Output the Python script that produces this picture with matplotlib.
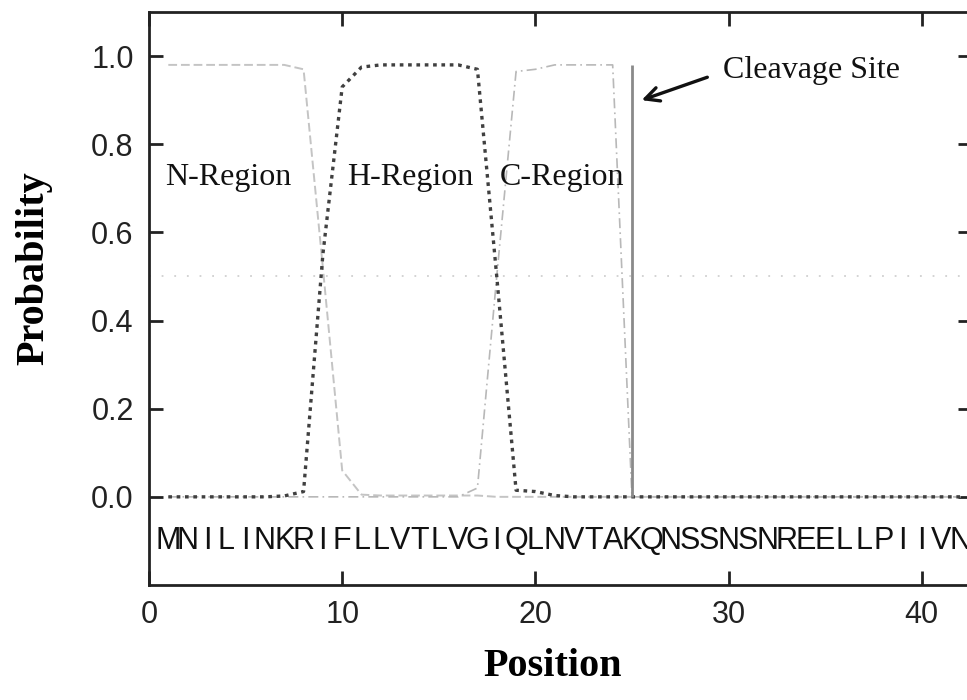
import matplotlib
matplotlib.use("Agg")
import matplotlib.pyplot as plt
import numpy as np

# signal peptide prediction, one value per residue
sequence = "MNILINKRIFLLVTLVGIQLNVTAKQNSSNSNREELLPIIVN"
positions = np.arange(1, len(sequence) + 1)

n_region = [0.98, 0.98, 0.98, 0.98, 0.98, 0.98, 0.98, 0.97, 0.52, 0.06,
            0.005, 0.003, 0.003, 0.003, 0.003, 0.003, 0.003, 0.0, 0.0, 0.0,
            0.0, 0.0, 0.0, 0.0, 0.0, 0.0, 0.0, 0.0, 0.0, 0.0,
            0.0, 0.0, 0.0, 0.0, 0.0, 0.0, 0.0, 0.0, 0.0, 0.0,
            0.0, 0.0]
h_region = [0.0, 0.0, 0.0, 0.0, 0.0, 0.0, 0.002, 0.012, 0.55, 0.93,
            0.975, 0.98, 0.98, 0.98, 0.98, 0.98, 0.97, 0.50, 0.015, 0.012,
            0.003, 0.0, 0.0, 0.0, 0.0, 0.0, 0.0, 0.0, 0.0, 0.0,
            0.0, 0.0, 0.0, 0.0, 0.0, 0.0, 0.0, 0.0, 0.0, 0.0,
            0.0, 0.0]
c_region = [0.0, 0.0, 0.0, 0.0, 0.0, 0.0, 0.0, 0.0, 0.0, 0.0,
            0.0, 0.0, 0.0, 0.0, 0.0, 0.0, 0.02, 0.50, 0.965, 0.97,
            0.98, 0.98, 0.98, 0.98, 0.0, 0.0, 0.0, 0.0, 0.0, 0.0,
            0.0, 0.0, 0.0, 0.0, 0.0, 0.0, 0.0, 0.0, 0.0, 0.0,
            0.0, 0.0]
cleavage_pos = 25
cleavage_prob = 0.98
threshold = 0.5

region_labels = ["N-Region", "H-Region", "C-Region"]
region_label_x = [4.1, 13.5, 21.4]
region_label_y = 0.725

x_ticks = [0, 10, 20, 30, 40]
y_ticks = [0.0, 0.2, 0.4, 0.6, 0.8, 1.0]

serif = ["Liberation Serif", "DejaVu Serif"]
sans = ["Liberation Sans", "DejaVu Sans"]

fig = plt.figure(figsize=(9.67, 7.0), dpi=100)
ax = fig.add_axes([149 / 967, 115 / 700, 823 / 967, 573 / 700])

ax.axhline(threshold, color="#d0d0d0", lw=1.3, linestyle=(0, (1, 6)))
ax.plot(positions, n_region, color="#c4c4c4", lw=1.4, linestyle=(0, (4.5, 2)))
ax.plot(positions, c_region, color="#b8b8b8", lw=1.2,
        linestyle=(0, (6, 2.5, 1, 2.5)))
ax.plot(positions, h_region, color="#404040", lw=2.4, linestyle=(0, (1.1, 1.4)))
ax.vlines(cleavage_pos, 0, cleavage_prob, color="#8a8a8a", lw=2.0)

for pos, aa in zip(positions, sequence):
    ax.text(pos, -0.1, aa, ha="center", va="center", fontsize=22,
            family=sans, color="#111111")

for label, lx in zip(region_labels, region_label_x):
    ax.text(lx, region_label_y, label, ha="center", va="center",
            fontsize=23, family=serif, color="#111111")

ax.text(29.7, 0.968, "Cleavage Site", ha="left", va="center", fontsize=23,
        family=serif, color="#111111")
ax.annotate("", xy=(25.5, 0.90), xytext=(28.9, 0.952),
            arrowprops=dict(arrowstyle="->,head_length=1.0,head_width=0.5",
                            color="#111111", lw=2.4, shrinkA=0, shrinkB=0))

ax.set_xlim(0, 42.6)
ax.set_ylim(-0.2, 1.1)
ax.set_xticks(x_ticks)
ax.set_yticks(y_ticks)
ax.set_yticklabels(["%.1f" % v for v in y_ticks])
ax.tick_params(direction="in", length=10, width=2, top=True, right=True,
               labelsize=22, pad=11, colors="#222222")
for lab in ax.get_xticklabels() + ax.get_yticklabels():
    lab.set_family(sans)
for sp in ax.spines.values():
    sp.set_linewidth(2)
    sp.set_color("#222222")

ax.set_xlabel("Position", fontsize=29, fontweight="bold", family=serif)
ax.set_ylabel("Probability", fontsize=29, fontweight="bold", family=serif)
ax.xaxis.set_label_coords(0.49, -0.11)
ax.yaxis.set_label_coords(-0.118, 0.553)

fig.savefig("out.png", dpi=100)
